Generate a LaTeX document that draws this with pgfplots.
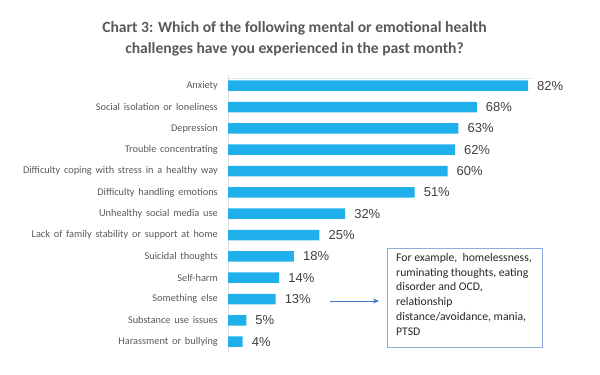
\documentclass[border=0pt]{standalone}
\usepackage{pgfplots}
\pgfplotsset{compat=1.18}
\usepackage{fontspec}
\setmainfont{Carlito}
\newfontfamily\arial{Liberation Sans}
\usetikzlibrary{arrows.meta}
\definecolor{barblue}{HTML}{1FB0EC}
\definecolor{labgray}{HTML}{595959}
\definecolor{valgray}{HTML}{404040}
\definecolor{boxblue}{HTML}{8FAADC}
\definecolor{arrblue}{HTML}{4472C4}
\definecolor{faintline}{HTML}{D2E6F2}
\newcommand{\labfont}{\fontsize{10.3bp}{12bp}\selectfont\spaceskip=0.37em\relax}
\begin{document}
\begin{tikzpicture}[x=1bp,y=1bp]
\path[use as bounding box] (0,0) rectangle (600,374);
\begin{axis}[
  at={(228bp,22.3bp)}, anchor=south west,
  scale only axis, width=300bp, height=276.7bp,
  xmin=0, xmax=82, ymin=-0.5, ymax=12.47,
  y dir=reverse,
  xbar, bar width=10.5bp,
  axis x line=none,
  axis y line*=left,
  y axis line style={draw=black!12, line width=0.8bp},
  xtick=\empty,
  ytick={0,...,12},
  yticklabels={Anxiety,Social isolation or loneliness,Depression,Trouble concentrating,Difficulty coping with stress in a healthy way,Difficulty handling emotions,Unhealthy social media use,Lack of family stability or support at home,Suicidal thoughts,Self-harm,Something else,Substance use issues,Harassment or bullying},
  major tick length=0pt,
  ytick style={draw=none},
  yticklabel style={font=\labfont, text=labgray, inner sep=0pt, anchor=east, xshift=-10bp},
  /pgf/number format/assume math mode=true,
  nodes near coords={\pgfmathprintnumber{\pgfplotspointmeta}\%},
  nodes near coords style={font=\arial\fontsize{13bp}{15bp}\selectfont, text=valgray, anchor=west, inner sep=0pt, xshift=9bp},
  clip=false,
]
\addplot[fill=barblue, draw=none] coordinates {
(82,0) (68,1) (63,2) (62,3) (60,4) (51,5) (32,6) (25,7) (18,8) (14,9) (13,10) (5,11) (4,12)};
\end{axis}
\draw[draw=faintline, line width=0.5bp] (228,296) -- (531,296);
\node[font=\bfseries\fontsize{15.6bp}{20.5bp}\selectfont, text=labgray, align=center, anchor=center] at (294.5,335) {Chart 3: Which of the following mental or emotional health\\challenges have you experienced in the past month?};
\draw[draw=boxblue, line width=1bp] (387,126) rectangle (542,27);
\node[font=\fontsize{11.7bp}{14.8bp}\selectfont, text=black!85, align=left, anchor=north west, inner sep=0pt] at (396,121) {For example,\ \ homelessness,\\ruminating thoughts, eating\\disorder and OCD,\\relationship\\distance/avoidance, mania,\\PTSD};
\draw[draw=arrblue, line width=0.8bp, -{Stealth[length=6bp,width=5bp]}] (330,73) -- (379,73);
\end{tikzpicture}
\end{document}
